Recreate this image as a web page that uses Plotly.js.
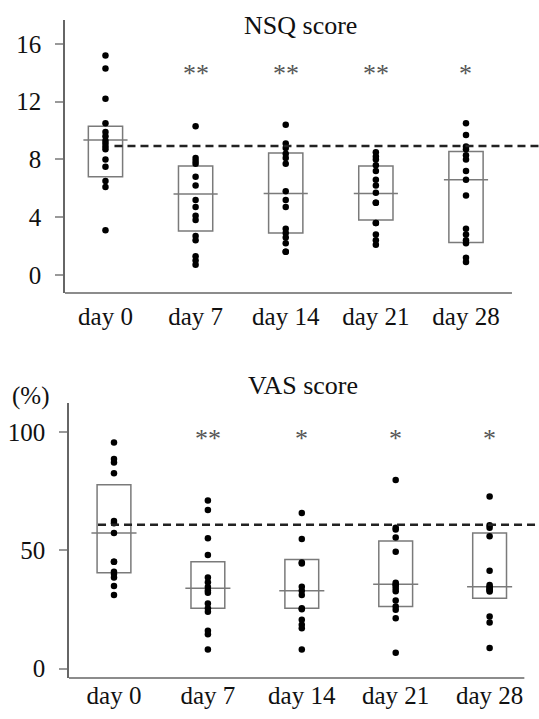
<!DOCTYPE html>
<html>
<head>
<meta charset="utf-8">
<script src="https://cdn.plot.ly/plotly-3.0.1.min.js"></script>
</head>
<body style="margin:0">
<div id="chart" style="width:539px;height:719px"></div>
<script>
// ---- data ----
const days = ['day 0', 'day 7', 'day 14', 'day 21', 'day 28'];

// NSQ score individual values per day
const nsqDay0  = [15.2, 14.3, 12.2, 10.5, 9.9, 9.6, 9.3, 9.1, 8.9, 8.7, 8.0, 7.5, 6.5, 6.1, 3.1];
const nsqDay7  = [10.3, 8.1, 7.9, 7.7, 6.8, 6.2, 5.2, 4.7, 4.1, 3.8, 2.7, 2.4, 1.3, 1.0, 0.7];
const nsqDay14 = [10.4, 9.1, 8.8, 8.4, 8.1, 7.7, 5.8, 5.2, 4.7, 3.2, 2.9, 2.6, 2.2, 1.6, 1.6];
const nsqDay21 = [8.5, 8.2, 8.0, 7.6, 7.2, 6.6, 6.2, 5.7, 5.0, 5.0, 3.6, 3.6, 2.8, 2.4, 2.1];
const nsqDay28 = [10.5, 9.7, 8.9, 8.7, 8.3, 8.0, 7.2, 6.6, 5.5, 3.2, 2.8, 2.4, 2.2, 1.2, 0.9];
const nsqUpper  = [10.3, 7.55, 8.45, 7.55, 8.55];
const nsqLower  = [6.8, 3.05, 2.9, 3.8, 2.25];
const nsqCenter = [9.35, 5.6, 5.65, 5.65, 6.6];
const nsqBaseline = 8.93;
const nsqSig = ['', '**', '**', '**', '*'];

// VAS score (%) individual values per day
const vasDay0  = [95.5, 88.5, 87.1, 82.5, 62.3, 61.4, 57.3, 45.1, 45.1, 40.9, 39.9, 38.5, 34.9, 31.1];
const vasDay7  = [71, 67, 55, 48, 38.5, 36.5, 34.5, 33, 32, 27.5, 25.5, 24, 16, 14.5, 8];
const vasDay14 = [65.7, 54.7, 44.8, 44.4, 34.6, 32.9, 31.1, 25.5, 25.0, 20.6, 18.5, 17, 8];
const vasDay21 = [79.7, 59.5, 58.7, 55.4, 49.3, 36.3, 35.5, 34.9, 33.7, 32.7, 28.7, 26.2, 24.8, 21.2, 6.7];
const vasDay28 = [72.7, 60.5, 59.5, 55.9, 41.3, 35.3, 34.6, 34.0, 33.5, 33.0, 32.5, 22.0, 19.5, 8.7];
const vasUpper  = [77.7, 45.1, 46.1, 53.9, 57.3];
const vasLower  = [40.5, 25.5, 25.5, 26.2, 29.7];
const vasCenter = [57.3, 33.9, 32.9, 35.6, 34.6];
const vasBaseline = 60.8;
const vasSig = ['', '**', '*', '*', '*'];

const nsqTicks = [0, 4, 8, 12, 16];
const vasTicks = [0, 50, 100];

// ---- layout helpers ----
const W = 539, H = 719;
const pyf = p => 1 - p / H;     // pixel row -> paper fraction

const nsqSeries = [nsqDay0, nsqDay7, nsqDay14, nsqDay21, nsqDay28];
const vasSeries = [vasDay0, vasDay7, vasDay14, vasDay21, vasDay28];

function dotTrace(series, xa, ya) {
  const xs = [], ys = [];
  series.forEach((vals, i) => vals.forEach(v => { xs.push(i); ys.push(v); }));
  return {
    type: 'scatter', mode: 'markers', x: xs, y: ys, xaxis: xa, yaxis: ya,
    marker: {color: '#000', size: 6.5}, hoverinfo: 'skip', showlegend: false, cliponaxis: false
  };
}

const traces = [dotTrace(nsqSeries, 'x', 'y'), dotTrace(vasSeries, 'x2', 'y2')];

const shapes = [];
function addBoxes(up, lo, mid, xref, yref, hw, mw) {
  up.forEach((u, i) => {
    shapes.push({type: 'rect', xref: xref, yref: yref, x0: i - hw, x1: i + hw, y0: lo[i], y1: u,
      line: {color: '#7a7a7a', width: 1.5}, fillcolor: 'rgba(0,0,0,0)', layer: 'below'});
    shapes.push({type: 'line', xref: xref, yref: yref, x0: i - mw, x1: i + mw, y0: mid[i], y1: mid[i],
      line: {color: '#7a7a7a', width: 1.5}, layer: 'below'});
  });
}
addBoxes(nsqUpper, nsqLower, nsqCenter, 'x', 'y', 0.19, 0.245);
addBoxes(vasUpper, vasLower, vasCenter, 'x2', 'y2', 0.18, 0.24);

const xr1 = [-0.449, 4.81], yr1 = [-1.25, 17.66];
const xr2 = [-0.479, 4.526], yr2 = [-4.0, 112.2];

// baseline dashed lines
shapes.push({type: 'line', xref: 'x', yref: 'y', x0: 0.1, x1: xr1[1], y0: nsqBaseline, y1: nsqBaseline,
  line: {color: '#222', width: 2.5, dash: '8px,5px'}});
shapes.push({type: 'line', xref: 'x2', yref: 'y2', x0: -0.17, x1: xr2[1], y0: vasBaseline, y1: vasBaseline,
  line: {color: '#222', width: 2.5, dash: '8px,5px'}});

// x-axis base lines
shapes.push({type: 'line', xref: 'x', yref: 'paper', x0: xr1[0], x1: 4.51, y0: pyf(293), y1: pyf(293),
  line: {color: '#666', width: 1.5}});
shapes.push({type: 'line', xref: 'x2', yref: 'paper', x0: xr2[0], x1: 4.37, y0: pyf(678), y1: pyf(678),
  line: {color: '#666', width: 1.5}});

const annotations = [];
function addSig(sig, xref, ypix) {
  sig.forEach((s, i) => {
    if (!s) return;
    annotations.push({text: s, xref: xref, yref: 'paper', x: i, y: pyf(ypix), xanchor: 'center', yanchor: 'middle',
      showarrow: false, font: {family: 'Liberation Serif', size: 26, color: '#555'}});
  });
}
addSig(nsqSig, 'x', 73);
addSig(vasSig, 'x2', 439);

annotations.push({text: 'NSQ score', xref: 'paper', yref: 'paper', x: 300 / W, y: pyf(25),
  xanchor: 'center', yanchor: 'middle', showarrow: false, font: {family: 'Liberation Serif', size: 26, color: '#111'}});
annotations.push({text: 'VAS score', xref: 'paper', yref: 'paper', x: 303 / W, y: pyf(385),
  xanchor: 'center', yanchor: 'middle', showarrow: false, font: {family: 'Liberation Serif', size: 26, color: '#111'}});
annotations.push({text: '(%)', xref: 'paper', yref: 'paper', x: 30 / W, y: pyf(396),
  xanchor: 'center', yanchor: 'middle', showarrow: false, font: {family: 'Liberation Serif', size: 25, color: '#111'}});

function xAxis(domain, range, anchor, standoff) {
  return {domain: domain, range: range, anchor: anchor, showline: false, ticks: '', showgrid: false, zeroline: false,
    tickfont: {family: 'Liberation Serif', size: 25, color: '#111'}, tickmode: 'array',
    tickvals: [0, 1, 2, 3, 4], ticktext: days, ticklabelstandoff: standoff, fixedrange: true};
}
function yAxis(domain, range, anchor, tv) {
  return {domain: domain, range: range, anchor: anchor, tickmode: 'array', tickvals: tv,
    showline: true, linecolor: '#666', linewidth: 1.5, ticks: 'outside', ticklen: 8,
    tickcolor: '#999', tickwidth: 1.5, showgrid: false, zeroline: false,
    tickfont: {family: 'Liberation Serif', size: 25, color: '#111'}, ticklabelstandoff: 9, fixedrange: true};
}

const layout = {
  width: W, height: H, margin: {l: 0, r: 0, t: 0, b: 0},
  paper_bgcolor: '#fff', plot_bgcolor: '#fff', showlegend: false,
  font: {family: 'Liberation Serif', size: 25, color: '#111'},
  xaxis: xAxis([65 / W, 1], xr1, 'y', 6),
  yaxis: yAxis([pyf(293), pyf(20)], yr1, 'x', nsqTicks),
  xaxis2: xAxis([69 / W, 1], xr2, 'y2', 0),
  yaxis2: yAxis([pyf(678), pyf(403)], yr2, 'x2', vasTicks),
  shapes: shapes, annotations: annotations
};

Plotly.newPlot('chart', traces, layout, {displayModeBar: false});
</script>
</body>
</html>
